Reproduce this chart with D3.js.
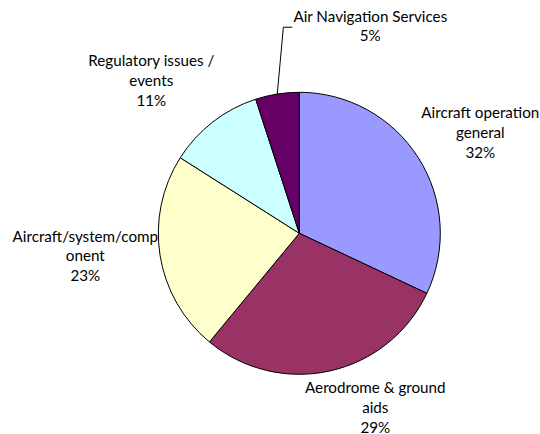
<!DOCTYPE html>
<html>
<head>
<meta charset="utf-8">
<script src="https://cdn.jsdelivr.net/npm/d3@7"></script>
<style>
  html, body { margin: 0; padding: 0; background: #fff; }
  svg { display: block; }
  text { font-family: Lato, "Open Sans", sans-serif; fill: #000; }
</style>
</head>
<body>
<svg id="chart" width="540" height="434"></svg>
<script>
// Occurrence categories, clockwise from 12 o'clock
const categories = [
  "Aircraft operation general",
  "Aerodrome & ground aids",
  "Aircraft/system/component",
  "Regulatory issues / events",
  "Air Navigation Services"
];
// Share of occurrences, percent
const shares = [32, 29, 23, 11, 5];
// Label text as wrapped on the chart
const labelLines = [
  ["Aircraft operation", "general"],
  ["Aerodrome & ground", "aids"],
  ["Aircraft/system/comp", "onent"],
  ["Regulatory issues /", "events"],
  ["Air Navigation Services"]
];
const sliceColors = ["#9999FF", "#993366", "#FFFFCC", "#CCFFFF", "#660066"];

const W = 540, H = 434;
const cx = 299.3, cy = 233.3, R = 141;
const lineGap = 19.7;
const fontSize = 15.2;

// label anchor offsets from the pie centre (x centre of text block, first baseline)
const labelOffsets = [
  [181, -115],
  [76, 160],
  [-214, 8.4],
  [-148, -167],
  [71, -211.6]
];

const svg = d3.select("#chart");
const g = svg.append("g").attr("transform", `translate(${cx},${cy})`);

const pie = d3.pie().sort(null).value(d => d.value);
const data = categories.map((c, i) => ({ name: c, value: shares[i], lines: labelLines[i], color: sliceColors[i] }));
const arcs = pie(data);
const arc = d3.arc().innerRadius(0).outerRadius(R);
const edgeArc = d3.arc().innerRadius(R).outerRadius(R);

g.selectAll("path.slice")
  .data(arcs)
  .join("path")
  .attr("class", "slice")
  .attr("d", arc)
  .attr("fill", d => d.data.color)
  .attr("stroke", "#000")
  .attr("stroke-width", 1);

const total = d3.sum(shares);
const labels = g.selectAll("text.lbl")
  .data(arcs)
  .join("text")
  .attr("class", "lbl")
  .attr("text-anchor", "middle")
  .attr("font-size", fontSize);

labels.each(function (d, i) {
  const t = d3.select(this);
  const [ox, oy] = labelOffsets[i];
  const lines = d.data.lines.concat([Math.round(d.data.value / total * 100) + "%"]);
  lines.forEach((ln, k) => {
    t.append("tspan").attr("x", ox).attr("y", oy + k * lineGap).text(ln);
  });
});

// leader line for the narrow slice whose label sits above the pie
arcs.forEach((d, i) => {
  if (d.data.name !== "Air Navigation Services") return;
  const [ex, ey] = edgeArc.centroid(d);
  const [ox, oy] = labelOffsets[i];
  const node = labels.filter((_, j) => j === i).node();
  const bb = node.getBBox();
  const lx = bb.x - 1, ly = oy + 5.5;
  g.append("path")
    .attr("d", `M${lx},${ly}H${lx - 9}L${ex},${ey}`)
    .attr("fill", "none")
    .attr("stroke", "#000")
    .attr("stroke-width", 1);
});
</script>
</body>
</html>
